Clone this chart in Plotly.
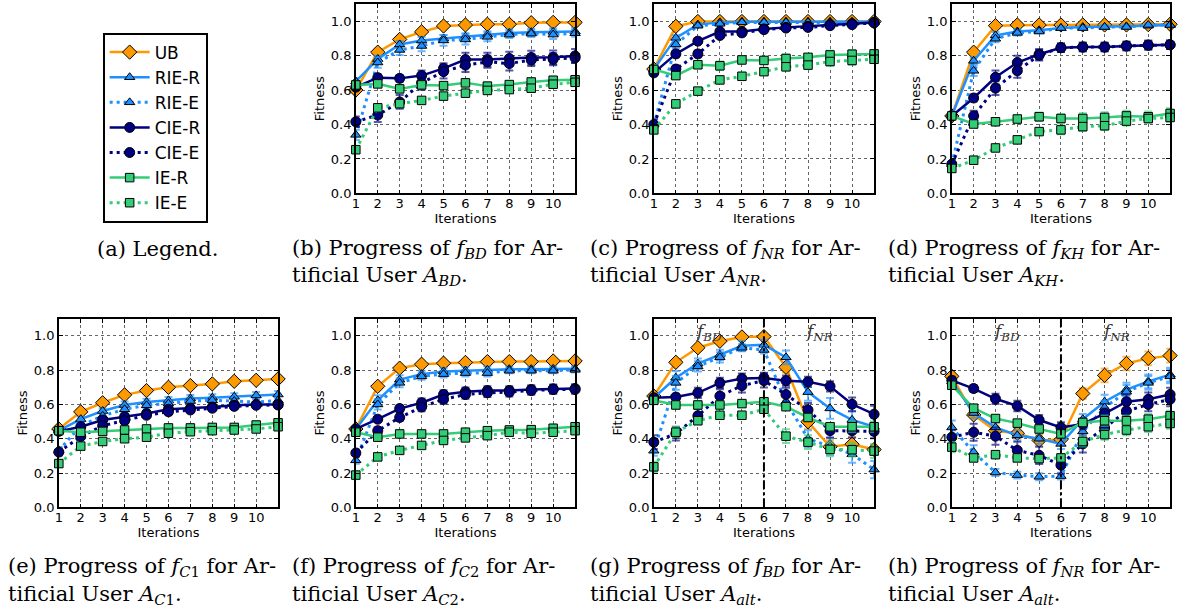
import plotly.graph_objects as go

# ---------------- data ----------------
iterations = list(range(1, 12))
iteration_ticks = list(range(1, 11))
fitness_ticks = [0.0, 0.2, 0.4, 0.6, 0.8, 1.0]
series_names = ["UB", "RIE-R", "RIE-E", "CIE-R", "CIE-E", "IE-R", "IE-E"]
switch_iteration = 6

# (b) f_BD, A_BD
b_UB = [0.60, 0.82, 0.894, 0.938, 0.972, 0.978, 0.982, 0.982, 0.991, 0.993, 0.993]
b_RIE_R = [0.65, 0.78, 0.865, 0.888, 0.90, 0.91, 0.922, 0.932, 0.936, 0.938, 0.94]
b_RIE_E = [0.34, 0.76, 0.833, 0.856, 0.888, 0.894, 0.909, 0.922, 0.928, 0.922, 0.93]
b_CIE_R = [0.617, 0.672, 0.668, 0.684, 0.726, 0.777, 0.777, 0.783, 0.789, 0.79, 0.798]
b_CIE_E = [0.416, 0.455, 0.531, 0.642, 0.707, 0.745, 0.764, 0.754, 0.775, 0.779, 0.787]
b_IE_R = [0.63, 0.636, 0.607, 0.63, 0.626, 0.642, 0.623, 0.632, 0.647, 0.657, 0.66]
b_IE_E = [0.254, 0.497, 0.521, 0.54, 0.565, 0.582, 0.598, 0.603, 0.611, 0.634, 0.645]
b_UB_err = [0.01, 0.02, 0.02, 0.015, 0.01, 0.01, 0.01, 0.01, 0.01, 0.01, 0.01]
b_RIE_R_err = [0.02, 0.02, 0.02, 0.02, 0.02, 0.02, 0.02, 0.02, 0.02, 0.02, 0.02]
b_RIE_E_err = [0.03, 0.03, 0.03, 0.03, 0.03, 0.03, 0.025, 0.02, 0.02, 0.025, 0.02]
b_CIE_R_err = [0.01, 0.02, 0.02, 0.03, 0.03, 0.04, 0.04, 0.04, 0.04, 0.04, 0.04]
b_CIE_E_err = [0.03, 0.04, 0.04, 0.04, 0.04, 0.04, 0.035, 0.04, 0.035, 0.035, 0.03]
b_IE_R_err = [0.01, 0.02, 0.02, 0.02, 0.02, 0.02, 0.02, 0.02, 0.02, 0.02, 0.02]
b_IE_E_err = [0.02, 0.02, 0.02, 0.02, 0.02, 0.02, 0.02, 0.02, 0.02, 0.02, 0.02]

# (c) f_NR, A_NR
c_UB = [0.722, 0.97, 0.998, 0.998, 0.998, 0.998, 0.998, 0.998, 0.998, 0.998, 0.998]
c_RIE_R = [0.72, 0.903, 0.98, 0.993, 0.997, 0.997, 0.997, 0.997, 0.997, 0.997, 0.997]
c_RIE_E = [0.40, 0.865, 0.974, 0.985, 0.993, 0.993, 0.993, 0.993, 0.993, 0.993, 0.993]
c_CIE_R = [0.70, 0.81, 0.884, 0.94, 0.94, 0.955, 0.964, 0.97, 0.98, 0.985, 0.993]
c_CIE_E = [0.40, 0.722, 0.81, 0.917, 0.932, 0.951, 0.96, 0.964, 0.974, 0.98, 0.99]
c_IE_R = [0.72, 0.684, 0.747, 0.741, 0.775, 0.772, 0.783, 0.79, 0.804, 0.808, 0.81]
c_IE_E = [0.369, 0.52, 0.594, 0.659, 0.68, 0.707, 0.735, 0.745, 0.766, 0.772, 0.779]
c_UB_err = [0.01, 0.01, 0.005, 0.005, 0.005, 0.005, 0.005, 0.005, 0.005, 0.005, 0.005]
c_RIE_R_err = [0.01, 0.015, 0.01, 0.005, 0.005, 0.005, 0.005, 0.005, 0.005, 0.005, 0.005]
c_RIE_E_err = [0.03, 0.02, 0.01, 0.01, 0.005, 0.005, 0.005, 0.005, 0.005, 0.005, 0.005]
c_CIE_R_err = [0.01, 0.02, 0.015, 0.015, 0.015, 0.015, 0.015, 0.015, 0.01, 0.01, 0.01]
c_CIE_E_err = [0.03, 0.02, 0.02, 0.015, 0.015, 0.015, 0.015, 0.015, 0.01, 0.01, 0.01]
c_IE_R_err = [0.01, 0.02, 0.02, 0.025, 0.02, 0.02, 0.025, 0.02, 0.025, 0.025, 0.02]
c_IE_E_err = [0.02, 0.015, 0.015, 0.02, 0.02, 0.02, 0.02, 0.02, 0.025, 0.025, 0.02]

# (d) f_KH, A_KH
d_UB = [0.45, 0.82, 0.974, 0.978, 0.978, 0.978, 0.978, 0.978, 0.978, 0.98, 0.982]
d_RIE_R = [0.45, 0.77, 0.917, 0.94, 0.947, 0.96, 0.966, 0.966, 0.97, 0.974, 0.978]
d_RIE_E = [0.17, 0.712, 0.898, 0.932, 0.94, 0.96, 0.96, 0.966, 0.966, 0.978, 0.978]
d_CIE_R = [0.45, 0.554, 0.674, 0.76, 0.808, 0.846, 0.85, 0.85, 0.856, 0.861, 0.863]
d_CIE_E = [0.17, 0.45, 0.611, 0.712, 0.802, 0.846, 0.85, 0.85, 0.856, 0.861, 0.863]
d_IE_R = [0.45, 0.403, 0.416, 0.432, 0.445, 0.435, 0.435, 0.441, 0.45, 0.445, 0.464]
d_IE_E = [0.145, 0.193, 0.264, 0.311, 0.359, 0.369, 0.388, 0.393, 0.42, 0.435, 0.441]
d_UB_err = [0.01, 0.01, 0.01, 0.01, 0.01, 0.01, 0.01, 0.01, 0.01, 0.01, 0.01]
d_RIE_R_err = [0.01, 0.02, 0.02, 0.015, 0.01, 0.01, 0.01, 0.01, 0.01, 0.01, 0.01]
d_RIE_E_err = [0.03, 0.03, 0.02, 0.015, 0.01, 0.01, 0.01, 0.01, 0.01, 0.01, 0.01]
d_CIE_R_err = [0.01, 0.02, 0.04, 0.04, 0.03, 0.025, 0.025, 0.025, 0.025, 0.025, 0.025]
d_CIE_E_err = [0.03, 0.03, 0.04, 0.04, 0.03, 0.025, 0.025, 0.025, 0.025, 0.025, 0.025]
d_IE_R_err = [0.01, 0.015, 0.02, 0.02, 0.025, 0.025, 0.03, 0.03, 0.03, 0.03, 0.03]
d_IE_E_err = [0.02, 0.01, 0.015, 0.02, 0.02, 0.025, 0.025, 0.025, 0.025, 0.025, 0.025]

# (e) f_C1, A_C1
e_UB = [0.457, 0.557, 0.61, 0.656, 0.681, 0.70, 0.71, 0.72, 0.735, 0.741, 0.749]
e_RIE_R = [0.447, 0.514, 0.562, 0.597, 0.614, 0.624, 0.635, 0.639, 0.645, 0.653, 0.658]
e_RIE_E = [0.332, 0.476, 0.534, 0.572, 0.595, 0.605, 0.62, 0.624, 0.62, 0.614, 0.624]
e_CIE_R = [0.443, 0.47, 0.509, 0.528, 0.547, 0.572, 0.578, 0.585, 0.595, 0.60, 0.60]
e_CIE_E = [0.322, 0.413, 0.476, 0.505, 0.537, 0.557, 0.568, 0.578, 0.589, 0.595, 0.597]
e_IE_R = [0.447, 0.438, 0.443, 0.451, 0.457, 0.463, 0.463, 0.466, 0.466, 0.48, 0.493]
e_IE_E = [0.255, 0.357, 0.384, 0.40, 0.409, 0.432, 0.441, 0.447, 0.451, 0.457, 0.47]
e_UB_err = [0.01, 0.01, 0.01, 0.01, 0.01, 0.01, 0.01, 0.01, 0.01, 0.01, 0.01]
e_RIE_R_err = [0.01, 0.015, 0.015, 0.02, 0.02, 0.02, 0.02, 0.02, 0.02, 0.02, 0.02]
e_RIE_E_err = [0.02, 0.02, 0.02, 0.02, 0.02, 0.02, 0.02, 0.02, 0.02, 0.02, 0.02]
e_CIE_R_err = [0.01, 0.015, 0.015, 0.015, 0.015, 0.015, 0.015, 0.015, 0.015, 0.015, 0.015]
e_CIE_E_err = [0.02, 0.015, 0.015, 0.015, 0.015, 0.015, 0.015, 0.015, 0.015, 0.015, 0.015]
e_IE_R_err = [0.01, 0.01, 0.015, 0.015, 0.015, 0.02, 0.02, 0.02, 0.02, 0.02, 0.02]
e_IE_E_err = [0.02, 0.015, 0.015, 0.015, 0.015, 0.015, 0.015, 0.015, 0.015, 0.015, 0.015]

# (f) f_C2, A_C2
f_UB = [0.457, 0.706, 0.812, 0.835, 0.841, 0.845, 0.85, 0.85, 0.85, 0.854, 0.854]
f_RIE_R = [0.457, 0.624, 0.745, 0.777, 0.793, 0.798, 0.802, 0.806, 0.806, 0.808, 0.808]
f_RIE_E = [0.274, 0.60, 0.726, 0.764, 0.777, 0.783, 0.783, 0.797, 0.797, 0.797, 0.802]
f_CIE_R = [0.457, 0.514, 0.576, 0.61, 0.658, 0.674, 0.681, 0.681, 0.687, 0.691, 0.693]
f_CIE_E = [0.317, 0.447, 0.524, 0.585, 0.63, 0.658, 0.668, 0.672, 0.681, 0.687, 0.687]
f_IE_R = [0.438, 0.409, 0.428, 0.428, 0.428, 0.438, 0.447, 0.451, 0.453, 0.461, 0.47]
f_IE_E = [0.188, 0.294, 0.332, 0.361, 0.39, 0.405, 0.418, 0.438, 0.432, 0.438, 0.447]
f_UB_err = [0.01, 0.01, 0.01, 0.01, 0.01, 0.01, 0.01, 0.01, 0.01, 0.01, 0.01]
f_RIE_R_err = [0.01, 0.03, 0.025, 0.02, 0.02, 0.02, 0.02, 0.015, 0.015, 0.015, 0.015]
f_RIE_E_err = [0.02, 0.03, 0.025, 0.02, 0.02, 0.02, 0.02, 0.015, 0.015, 0.015, 0.015]
f_CIE_R_err = [0.01, 0.015, 0.02, 0.025, 0.025, 0.025, 0.025, 0.025, 0.025, 0.025, 0.025]
f_CIE_E_err = [0.02, 0.02, 0.02, 0.025, 0.025, 0.025, 0.025, 0.025, 0.025, 0.025, 0.025]
f_IE_R_err = [0.01, 0.01, 0.015, 0.015, 0.015, 0.02, 0.02, 0.02, 0.02, 0.02, 0.02]
f_IE_E_err = [0.015, 0.015, 0.015, 0.015, 0.015, 0.015, 0.02, 0.02, 0.02, 0.02, 0.02]

# (g) f_BD, A_alt
g_UB = [0.649, 0.846, 0.931, 0.969, 0.994, 0.996, 0.817, 0.499, 0.353, 0.368, 0.337]
g_RIE_R = [0.639, 0.756, 0.838, 0.89, 0.942, 0.948, 0.875, 0.672, 0.577, 0.51, 0.47]
g_RIE_E = [0.33, 0.726, 0.822, 0.875, 0.931, 0.918, 0.617, 0.40, 0.355, 0.31, 0.22]
g_CIE_R = [0.639, 0.643, 0.668, 0.726, 0.751, 0.755, 0.739, 0.732, 0.706, 0.601, 0.543]
g_CIE_E = [0.38, 0.43, 0.534, 0.649, 0.71, 0.739, 0.658, 0.568, 0.447, 0.447, 0.443]
g_IE_R = [0.624, 0.597, 0.597, 0.597, 0.605, 0.616, 0.587, 0.524, 0.47, 0.47, 0.47]
g_IE_E = [0.236, 0.438, 0.505, 0.537, 0.537, 0.572, 0.415, 0.38, 0.338, 0.336, 0.328]
g_UB_err = [0.01, 0.015, 0.015, 0.01, 0.01, 0.01, 0.03, 0.04, 0.04, 0.04, 0.03]
g_RIE_R_err = [0.02, 0.04, 0.03, 0.03, 0.03, 0.03, 0.04, 0.05, 0.06, 0.05, 0.05]
g_RIE_E_err = [0.03, 0.04, 0.03, 0.03, 0.02, 0.02, 0.05, 0.05, 0.05, 0.05, 0.05]
g_CIE_R_err = [0.01, 0.02, 0.03, 0.03, 0.03, 0.03, 0.03, 0.03, 0.03, 0.04, 0.05]
g_CIE_E_err = [0.04, 0.04, 0.04, 0.04, 0.04, 0.04, 0.04, 0.04, 0.04, 0.04, 0.04]
g_IE_R_err = [0.01, 0.02, 0.02, 0.02, 0.02, 0.02, 0.02, 0.02, 0.02, 0.03, 0.03]
g_IE_E_err = [0.03, 0.03, 0.02, 0.02, 0.02, 0.02, 0.04, 0.04, 0.04, 0.04, 0.04]

# (h) f_NR, A_alt
h_UB = [0.764, 0.539, 0.447, 0.432, 0.39, 0.395, 0.664, 0.77, 0.839, 0.869, 0.885]
h_RIE_R = [0.735, 0.55, 0.466, 0.42, 0.40, 0.37, 0.514, 0.616, 0.687, 0.735, 0.774]
h_RIE_E = [0.466, 0.322, 0.203, 0.188, 0.178, 0.182, 0.443, 0.582, 0.674, 0.726, 0.764]
h_CIE_R = [0.741, 0.693, 0.633, 0.591, 0.509, 0.466, 0.486, 0.547, 0.616, 0.63, 0.658]
h_CIE_E = [0.409, 0.438, 0.415, 0.332, 0.303, 0.246, 0.37, 0.463, 0.562, 0.60, 0.63]
h_IE_R = [0.712, 0.578, 0.518, 0.491, 0.457, 0.428, 0.495, 0.505, 0.505, 0.514, 0.534]
h_IE_E = [0.351, 0.288, 0.307, 0.288, 0.284, 0.288, 0.384, 0.424, 0.451, 0.47, 0.489]
h_UB_err = [0.02, 0.02, 0.03, 0.03, 0.03, 0.03, 0.03, 0.04, 0.04, 0.04, 0.04]
h_RIE_R_err = [0.02, 0.03, 0.03, 0.03, 0.03, 0.03, 0.03, 0.04, 0.04, 0.04, 0.04]
h_RIE_E_err = [0.04, 0.04, 0.02, 0.02, 0.02, 0.02, 0.04, 0.04, 0.04, 0.04, 0.04]
h_CIE_R_err = [0.02, 0.02, 0.03, 0.03, 0.03, 0.03, 0.03, 0.03, 0.04, 0.04, 0.04]
h_CIE_E_err = [0.04, 0.05, 0.05, 0.05, 0.05, 0.05, 0.05, 0.04, 0.04, 0.04, 0.04]
h_IE_R_err = [0.02, 0.02, 0.02, 0.02, 0.02, 0.02, 0.02, 0.03, 0.03, 0.03, 0.03]
h_IE_E_err = [0.03, 0.02, 0.02, 0.02, 0.02, 0.02, 0.03, 0.03, 0.03, 0.03, 0.03]

caption_lines = {
    "b": ["(b) Progress of <i>f</i><sub><i>BD</i></sub> for Ar-", "tificial User <i>A</i><sub><i>BD</i></sub>."],
    "c": ["(c) Progress of <i>f</i><sub><i>NR</i></sub> for Ar-", "tificial User <i>A</i><sub><i>NR</i></sub>."],
    "d": ["(d) Progress of <i>f</i><sub><i>KH</i></sub> for Ar-", "tificial User <i>A</i><sub><i>KH</i></sub>."],
    "e": ["(e) Progress of <i>f</i><sub><i>C</i>1</sub> for Ar-", "tificial User <i>A</i><sub><i>C</i>1</sub>."],
    "f": ["(f) Progress of <i>f</i><sub><i>C</i>2</sub> for Ar-", "tificial User <i>A</i><sub><i>C</i>2</sub>."],
    "g": ["(g) Progress of <i>f</i><sub><i>BD</i></sub> for Ar-", "tificial User <i>A</i><sub><i>alt</i></sub>."],
    "h": ["(h) Progress of <i>f</i><sub><i>NR</i></sub> for Ar-", "tificial User <i>A</i><sub><i>alt</i></sub>."],
}

# ---------------- styling ----------------
W, H = 1199, 612
SERIF = "DejaVu Serif"
colors = {"UB": "#FF9900", "RIE": "#1E90FF", "CIE": "#000080", "IE": "#33CC77"}
err_colors = {"UB": "rgba(255,153,0,0.65)", "RIE": "rgba(30,144,255,0.65)",
              "CIE": "rgba(0,0,128,0.65)", "IE": "rgba(51,204,119,0.65)"}
symbols = {"UB": "diamond", "RIE": "triangle-up", "CIE": "circle", "IE": "square"}
msizes = {"UB": 11, "RIE": 9, "CIE": 10, "IE": 8.5}

panels = {
    "b": [b_UB, b_RIE_R, b_RIE_E, b_CIE_R, b_CIE_E, b_IE_R, b_IE_E],
    "c": [c_UB, c_RIE_R, c_RIE_E, c_CIE_R, c_CIE_E, c_IE_R, c_IE_E],
    "d": [d_UB, d_RIE_R, d_RIE_E, d_CIE_R, d_CIE_E, d_IE_R, d_IE_E],
    "e": [e_UB, e_RIE_R, e_RIE_E, e_CIE_R, e_CIE_E, e_IE_R, e_IE_E],
    "f": [f_UB, f_RIE_R, f_RIE_E, f_CIE_R, f_CIE_E, f_IE_R, f_IE_E],
    "g": [g_UB, g_RIE_R, g_RIE_E, g_CIE_R, g_CIE_E, g_IE_R, g_IE_E],
    "h": [h_UB, h_RIE_R, h_RIE_E, h_CIE_R, h_CIE_E, h_IE_R, h_IE_E],
}
panel_errs = {
    "b": [b_UB_err, b_RIE_R_err, b_RIE_E_err, b_CIE_R_err, b_CIE_E_err, b_IE_R_err, b_IE_E_err],
    "c": [c_UB_err, c_RIE_R_err, c_RIE_E_err, c_CIE_R_err, c_CIE_E_err, c_IE_R_err, c_IE_E_err],
    "d": [d_UB_err, d_RIE_R_err, d_RIE_E_err, d_CIE_R_err, d_CIE_E_err, d_IE_R_err, d_IE_E_err],
    "e": [e_UB_err, e_RIE_R_err, e_RIE_E_err, e_CIE_R_err, e_CIE_E_err, e_IE_R_err, e_IE_E_err],
    "f": [f_UB_err, f_RIE_R_err, f_RIE_E_err, f_CIE_R_err, f_CIE_E_err, f_IE_R_err, f_IE_E_err],
    "g": [g_UB_err, g_RIE_R_err, g_RIE_E_err, g_CIE_R_err, g_CIE_E_err, g_IE_R_err, g_IE_E_err],
    "h": [h_UB_err, h_RIE_R_err, h_RIE_E_err, h_CIE_R_err, h_CIE_E_err, h_IE_R_err, h_IE_E_err],
}

# pixel boxes of the plot areas (left, right, top, bottom)
boxes = {
    "b": (353, 573, 4, 196), "c": (652, 873, 4, 196), "d": (951, 1170, 4, 196),
    "e": (55, 275, 323, 514), "f": (353, 573, 323, 514), "g": (652, 873, 323, 514),
    "h": (951, 1170, 323, 514),
}
caption_pos = {"b": (287, 0), "c": (586, 0), "d": (885, 0),
               "e": (2, 1), "f": (287, 1), "g": (586, 1), "h": (885, 1)}
caption_rows_y = [(252, 280), (575, 603)]

fig = go.Figure()
axis_common = dict(showline=True, linecolor="black", linewidth=1.5, mirror="ticks",
                   ticks="inside", ticklen=4, tickcolor="black",
                   showgrid=True, gridcolor="rgba(0,0,0,0.6)", gridwidth=1, griddash="dot",
                   zeroline=False, tickfont=dict(family="DejaVu Sans", size=13, color="black"))

for i, key in enumerate(["b", "c", "d", "e", "f", "g", "h"]):
    n = i + 1
    xa = "x" if n == 1 else f"x{n}"
    ya = "y" if n == 1 else f"y{n}"
    for name, vals, errs in zip(series_names, panels[key], panel_errs[key]):
        fam = name.split("-")[0]
        dotted = name.endswith("-E")
        fig.add_trace(go.Scatter(
            x=iterations, y=vals, name=name, legendgroup=name, showlegend=(n == 1),
            mode="lines+markers", xaxis=xa, yaxis=ya, cliponaxis=False,
            line=dict(color=colors[fam], width=3 if dotted else 2.5,
                      dash="3px,4px" if dotted else "solid"),
            marker=dict(symbol=symbols[fam], size=msizes[fam], color=colors[fam],
                        line=dict(color="black", width=1)),
            error_y=dict(type="data", array=errs, visible=True, color=err_colors[fam],
                         thickness=2, width=4),
        ))
    l, r, t, b = boxes[key]
    fig.layout[("xaxis" if n == 1 else f"xaxis{n}")] = dict(
        axis_common, domain=[l / W, r / W], range=[1, 11], tickvals=iteration_ticks,
        ticklabelstandoff=-3,
        anchor=ya, title=dict(text="Iterations", standoff=0,
                              font=dict(family="DejaVu Sans", size=13, color="black")))
    fig.layout[("yaxis" if n == 1 else f"yaxis{n}")] = dict(
        axis_common, domain=[1 - b / H, 1 - t / H], range=[0, 1.1], tickvals=fitness_ticks,
        tickformat=".1f", anchor=xa, title=dict(text="Fitness", standoff=3,
                                                font=dict(family="DejaVu Sans", size=13, color="black")))
    cx, row = caption_pos[key]
    for line_text, py in zip(caption_lines[key], caption_rows_y[row]):
        fig.add_annotation(x=cx / W, y=1 - py / H, xref="paper", yref="paper",
                           xanchor="left", yanchor="middle", showarrow=False, text=line_text,
                           font=dict(family=SERIF, size=21, color="black"))

# objective-switch markers in (g) and (h)
for n in (6, 7):
    fig.add_shape(type="line", xref=f"x{n}", yref=f"y{n} domain", x0=switch_iteration,
                  x1=switch_iteration, y0=0, y1=1, line=dict(color="black", width=2, dash="dashdot"))
    fig.add_annotation(x=3.5, y=1.02, xref=f"x{n}", yref=f"y{n}", showarrow=False,
                       text="<i>f</i><sub><i>BD</i></sub>",
                       font=dict(family=SERIF, size=17, color="#333333"))
    fig.add_annotation(x=8.5, y=1.02, xref=f"x{n}", yref=f"y{n}", showarrow=False,
                       text="<i>f</i><sub><i>NR</i></sub>",
                       font=dict(family=SERIF, size=17, color="#333333"))

fig.add_annotation(x=154 / W, y=1 - 252 / H, xref="paper", yref="paper", showarrow=False,
                   xanchor="center", yanchor="middle", text="(a) Legend.",
                   font=dict(family=SERIF, size=21, color="black"))

fig.update_layout(
    width=W, height=H, margin=dict(l=0, r=0, t=0, b=0),
    paper_bgcolor="white", plot_bgcolor="white",
    legend=dict(x=99 / W, y=1 - 33 / H, xanchor="left", yanchor="top",
                bordercolor="black", borderwidth=2, bgcolor="white",
                font=dict(family="DejaVu Sans", size=17, color="black"),
                tracegroupgap=0, itemwidth=40),
)

fig.write_html("out.html", config={"displayModeBar": False},
               post_script="document.body.style.margin='0';")
